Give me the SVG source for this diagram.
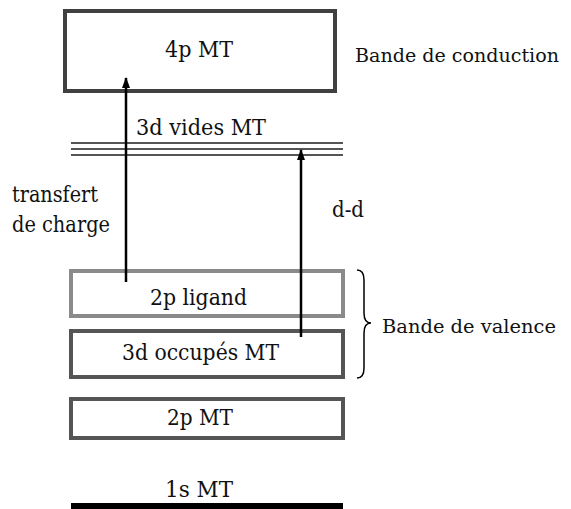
<svg xmlns="http://www.w3.org/2000/svg" width="571" height="509" viewBox="0 0 571 509">
<style>
text{font-family:'DejaVu Serif',serif;font-size:22px;fill:#111}
.r{font-size:19px}
.box{fill:none;stroke-width:4}
.arr{stroke:#000;stroke-width:2.5;fill:none}
</style>
<defs>
<marker id="ah" markerWidth="11" markerHeight="8" refX="10" refY="4" orient="auto" markerUnits="userSpaceOnUse" viewBox="0 0 11 8">
<path d="M0,0 L11,4 L0,8 Z" fill="#000"/>
</marker>
</defs>
<rect width="571" height="509" fill="#fff"/>
<g id="n4p"><rect class="box" x="65" y="11" width="270" height="80" stroke="#404040"/><text x="165" y="57" textLength="68" lengthAdjust="spacingAndGlyphs">4p MT</text></g>
<g id="conduction"><text class="r" x="355" y="62" textLength="204" lengthAdjust="spacingAndGlyphs">Bande de conduction</text></g>
<g id="n3dvides"><text x="136" y="135" textLength="130" lengthAdjust="spacingAndGlyphs">3d vides MT</text>
<g stroke="#555" stroke-width="2"><line x1="71" y1="143" x2="343" y2="143"/><line x1="71" y1="149" x2="343" y2="149"/><line x1="71" y1="155" x2="343" y2="155"/></g></g>
<g id="n2plig"><rect class="box" x="71" y="271" width="272" height="45" stroke="#8a8a8a"/><text x="150" y="305" textLength="97" lengthAdjust="spacingAndGlyphs">2p ligand</text></g>
<g id="n3docc"><rect class="box" x="71" y="331" width="272" height="46" stroke="#555"/><text x="122" y="360" textLength="157" lengthAdjust="spacingAndGlyphs">3d occupés MT</text></g>
<g id="n2pmt"><rect class="box" x="71" y="399" width="272" height="39" stroke="#555"/><text x="167" y="425" textLength="66" lengthAdjust="spacingAndGlyphs">2p MT</text></g>
<g id="n1s"><text x="165" y="497" textLength="68" lengthAdjust="spacingAndGlyphs">1s MT</text><rect x="71" y="503" width="272" height="6" fill="#000"/></g>
<g id="valence"><path d="M357,270 Q364,270 364,280 L364,313 Q364,323 371,323 Q364,323 364,333 L364,368 Q364,378 357,378" fill="none" stroke="#000" stroke-width="1.5"/><text class="r" x="382" y="333" textLength="174" lengthAdjust="spacingAndGlyphs">Bande de valence</text></g>
<g id="connectors">
<line class="arr" x1="126" y1="282" x2="126" y2="78" marker-end="url(#ah)"/>
<line class="arr" x1="301" y1="337" x2="301" y2="150" marker-end="url(#ah)"/>
<text x="12" y="202" textLength="86" lengthAdjust="spacingAndGlyphs">transfert</text><text x="12" y="232" textLength="98" lengthAdjust="spacingAndGlyphs">de charge</text>
<text x="332" y="217" textLength="32" lengthAdjust="spacingAndGlyphs">d-d</text>
</g>
</svg>
